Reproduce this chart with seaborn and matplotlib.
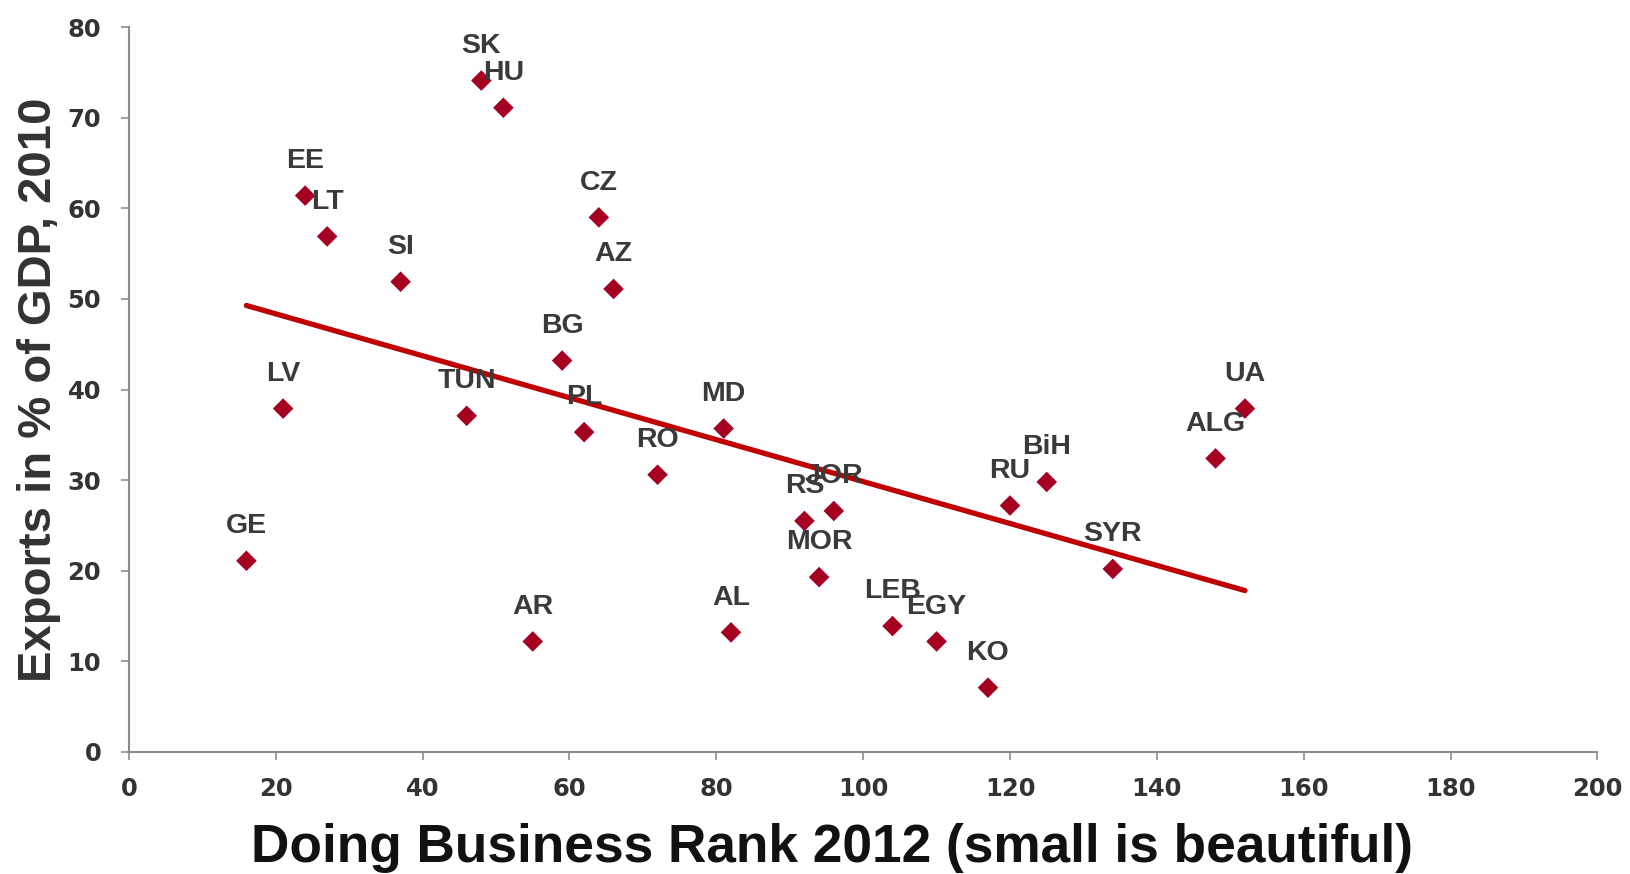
import pandas as pd
import matplotlib
matplotlib.use("Agg")
import matplotlib.pyplot as plt
import seaborn as sns

# Data
countries = ['GE', 'LV', 'EE', 'LT', 'SI', 'TUN', 'SK', 'HU', 'AR', 'BG',
             'PL', 'CZ', 'AZ', 'RO', 'MD', 'AL', 'RS', 'JOR', 'MOR', 'LEB',
             'EGY', 'KO', 'RU', 'BiH', 'SYR', 'ALG', 'UA']
rank = [16, 21, 24, 27, 37, 46, 48, 51, 55, 59,
        62, 64, 66, 72, 81, 82, 92, 96, 94, 104,
        110, 117, 120, 125, 134, 148, 152]
exports = [21.1, 37.9, 61.4, 56.9, 51.9, 37.1, 74.1, 71.1, 12.2, 43.2,
           35.3, 59.0, 51.1, 30.6, 35.7, 13.2, 25.5, 26.6, 19.3, 13.9,
           12.2, 7.1, 27.2, 29.8, 20.2, 32.4, 37.9]

df = pd.DataFrame({'Country': countries, 'Rank': rank, 'Exports': exports})

sns.set_style('ticks')
plt.rcParams['font.family'] = ['Liberation Sans', 'DejaVu Sans']

fig = plt.figure(figsize=(16.3, 8.74), dpi=100)
ax = fig.add_axes([0.0791, 0.1396, 0.9009, 0.8294])

# Linear trend line over the data range
sns.regplot(data=df, x='Rank', y='Exports', scatter=False, ci=None,
            truncate=True, color='#C00000', line_kws={'linewidth': 3.8},
            ax=ax)
sns.scatterplot(data=df, x='Rank', y='Exports', marker='D', s=110,
                color='#A50021', edgecolor='none', zorder=3, ax=ax)

for c, xv, yv in zip(countries, rank, exports):
    ax.annotate(c, (xv, yv), xytext=(0, 25), textcoords='offset points',
                ha='center', va='center', fontsize=20.5, fontweight='bold',
                color='#3a3a3a')

ax.set_xlim(0, 200)
ax.set_ylim(0, 80)
ax.set_xticks(range(0, 201, 20))
ax.set_yticks(range(0, 81, 10))
ax.tick_params(axis='both', colors='#8c8c8c', length=6, width=1.2,
               labelsize=17.5, labelcolor='#333333')
ax.tick_params(axis='x', pad=12)
ax.tick_params(axis='y', pad=14)
for lab in ax.get_xticklabels() + ax.get_yticklabels():
    lab.set_fontweight('bold')
    lab.set_family('DejaVu Sans')
for s in ['top', 'right']:
    ax.spines[s].set_visible(False)
for s in ['left', 'bottom']:
    ax.spines[s].set_color('#8c8c8c')
    ax.spines[s].set_linewidth(1.5)

ax.set_xlabel('Doing Business Rank 2012 (small is beautiful)', fontsize=38.3,
              fontweight='bold', color='#111111')
ax.set_ylabel('Exports in % of GDP, 2010', fontsize=34,
              fontweight='bold', color='#333333')
ax.xaxis.set_label_coords(0.479, -0.098)
ax.yaxis.set_label_coords(-0.046, 0.5)

fig.savefig('out.png', dpi=100)
